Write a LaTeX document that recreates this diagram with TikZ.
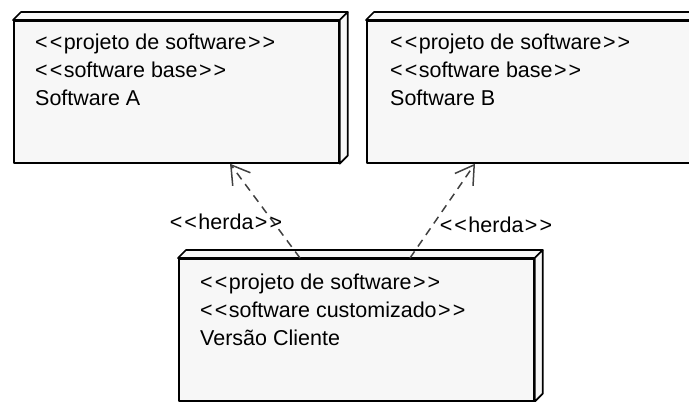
\documentclass[tikz,border=0pt]{standalone}
\usepackage{fontspec}
\newfontfamily\diagfont{Liberation Sans}
\usetikzlibrary{arrows.meta,calc}
\tikzset{
  face/.style={draw=black, line width=1.7pt, fill=black!3, line join=round},
  body/.style={face, anchor=north west, inner sep=0pt, minimum height=142pt},
  caption/.style={anchor=north west, inner sep=0pt, align=left,
    font=\diagfont\fontsize{21.5}{28}\selectfont},
  herda/.style={font=\diagfont\fontsize{21.5}{28}\selectfont, inner sep=0pt},
  inherit/.style={draw=black!75, line width=1.5pt, dash pattern=on 8pt off 6pt,
    -{Straight Barb[length=18pt,width=22pt,line width=1.5pt]}},
}
% stereotype in double angle brackets
\newcommand\stereo[1]{<\kern2pt<\kern1.5pt#1\kern1.5pt>\kern2pt>}
% top and side faces of a UML node drawn behind its front face
\newcommand\nodefaces[1]{%
  \draw[face] (#1.north west) -- ++(8,-8) -- ($(#1.north east)+(8,-8)$) -- (#1.north east) -- cycle;
  \draw[face] (#1.north east) -- ++(8,-8) -- ($(#1.south east)+(8,-8)$) -- (#1.south east) -- cycle;
}
\begin{document}
\begin{tikzpicture}[x=1pt, y=-1pt]
  \useasboundingbox (0,0) rectangle (689,402);
  \clip (0,0) rectangle (689,402);

  % base software A
  \node[body, minimum width=325pt] (a) at (13,20) {};
  \nodefaces{a}
  \node[caption] (ta) at (35,34) {\stereo{projeto de software}\\\stereo{software base}\\Software A};

  % base software B
  \node[body, minimum width=340pt] (b) at (366,20) {};
  \nodefaces{b}
  \node[caption] (tb) at (390,34) {\stereo{projeto de software}\\\stereo{software base}\\Software B};

  % customised client version
  \node[body, minimum width=355pt] (c) at (178,258) {};
  \nodefaces{c}
  \node[caption] (tc) at (200,274) {\stereo{projeto de software}\\\stereo{software customizado}\\Versão Cliente};

  % inheritance dependencies
  \coordinate (ca) at ([xshift=122pt]c.north west);
  \coordinate (cb) at ([xshift=232pt]c.north west);
  \coordinate (aa) at ([xshift=217pt]a.south west);
  \coordinate (bb) at ([xshift=109pt]b.south west);
  \draw[inherit] (ca) -- (aa);
  \draw[inherit] (cb) -- (bb);
  \node[herda] (la) at (226,222) {\stereo{herda}};
  \node[herda] (lb) at (496,225) {\stereo{herda}};
\end{tikzpicture}
\end{document}
